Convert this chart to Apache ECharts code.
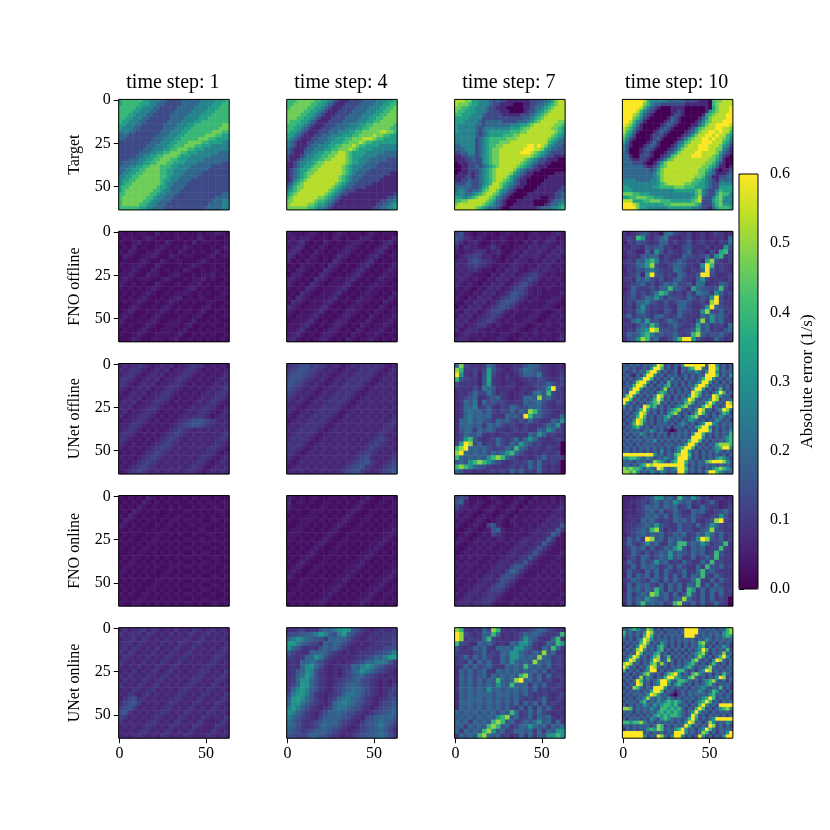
<!DOCTYPE html>
<html><head><meta charset="utf-8"><style>html,body{margin:0;padding:0;background:#fff}#c{width:830px;height:830px}</style>
<script src="https://cdn.jsdelivr.net/npm/echarts@6/dist/echarts.min.js"></script></head><body><div id="c"></div>
<script>
const columnTitles=["time step: 1","time step: 4","time step: 7","time step: 10"];
const rowLabels=["Target","FNO offline","UNet offline","FNO online","UNet online"];
const yTickValues=[0,25,50];
const xTickValues=[0,50];
const colorbarLabel="Absolute error (1/s)";
const targetUnit=0.6/9;   // target panels: one digit = 0.0667
const errorUnit=0.02;     // error panels: base-36 digit = 0.02
const target1=["56666665544433222233333344445556","56666655544332222233333444455566","66666554443322222333334444555666","66665544433222223333344445556666","66655444332222233333444455566666","66554443322222233334444555666666","65544433222222333344445566666666","55444332222223333444556666666677","54443322222223334445566666666777","44433222222233344455666666677766","33322222222333444556666667776655","33222222223334445566666777665555","22222222233344455666777766555544","22222222333444556667776655544444","22222223334445566777665554444444","22222233344556677766555444444333","22222334455667777655544444433333","22233344556677766555444443333333","23333445566777665554444333333322","33344556677766655444433333322222","33445566777766554444333333222222","34455667777766554443333322222222","44556677777766544433333222222222","45566777777765544333322222222222","45667777777765443333222222222222","56677777777655433332222222222222","56777777776654433322222222222222","66777777766544333222222222222233","67777777665443332222222222223333","67777776654433322222222222233344","67777766544333222222222222333344","66666655443332222222222223333344"];
const target4=["66677777665543211122223333444556","66777776655432111222233334445566","67777766554321112222333344455667","77777665543211122223333444556677","77776655432111222233334445566777","77766554321112222333344455667777","76665543211122223333444556677777","66655432111222333344455667777776","66554321112223333444556677777766","65543211122233344455667777788776","55432111223334445556677778776655","54321112233344555667778887665555","43211122333445556677787665555555","43211123344455667778766555544444","32111233444556677787655554444444","32111334455667788765555444443333","21112344556677888765554444333333","21123445566778888765544433333222","11234455677888888765544333322222","11234556778888887654443333222222","12345567788888887654433322222222","12345677888888887654333222222211","12345678888888876543332222221111","12456788888888876543322222211111","23567888888888765433222221111111","34677888888887654332222111111111","45678888888876543222111111111111","56788888888765432211111111111112","67888888877654321111111111111223","77888888766543211111111111122334","78888877655432111111111111223345","77777766544321111111111112233445"];
const target7=["88877554443232211111112223345788","87776554443221111000112233456788","77665544432211100000112334567888","76655544432221110000122345678888","66555444322222111112223456788888","55554444222222222222334567888888","55544443233333222233345678888877","54444433233333334445567888888776","54444432344444445556778888887765","54444432345555556667788888888765","44444432345555666778888888887654","44444423456666677788888888876543","44444423456667778888888888865433","33444423456677888888899898754332","33344423456778888888999887543322","22334423456778888889998765432222","11223323456778888888887654322111","11122322456778888888765432211100","01112222456778888887654322110000","00112232345678888876543211100000","00112223456788888754322110000000","01112123456788887543211000000111","11122123456788875432110000011111","11223223456788765321100000111111","22233223456887654321100001111111","33333223568887543211000011111112","34432334678875432100000111111122","44433456788764321000011111111223","55445678887643210000111110011223","66778888876532100011111000012334","78888888765432100111111000123345","88888876543321001111111123334456"];
const target10=["99999986444443333322221110677888","99999976433222222211111110678888","99999864321000111100000010578889","99998643210000112100000015678889","99987532100000122100000156788899","99976421000001321000001357888899","99864310000012321000012467888999","98753100000123210000113578899998","87642100001232100001246788899887","86531000012321000012357889989886","75420000122210000123578899898865","64210000123100001246788998988764","53100001231000013467888999888653","42100012321000124578889998887542","42000123210001235788889998877431","32000122100012357888899888875321","33100222100123678888999888764210","33211221001246788888888887754100","33322210013578888888888877642100","33333321124678888888888776531101","33333333235788888888887765310112","33333333346788888888887754311123","33333333345788888888877643112233","44443333445788888888766543213333","44444444445678888877665543224444","55444444455666677766655543225555","55544444444444455555567432246555","77766555444444444444467432257664","55667776655544444444568322467544","88855566777666555555678222567444","99987555555566777777765222467554","99997554444445555555443221356665"];
const fnoOff1=["212122113121212112122321","122212321211221213212112","211231212132112131221212","121312112321213212112123","213211223212132121212312","132112232113212211123122","121123211321221112321211","212232113211121232112121","122321132121213211212212","223211322112321121223121","232122211232112122312112","321212113211221223121121","212121232112112331211212","121212321121223212121122","212123211212331212211221","121232112123212121122112","112321121232121211231121","123211212321212212311212","232112123211122123112122","321121232112221231121211","212112321122212311212112","121123211222123112121221","211232112221231121212112","112321122212311212121121"];
const fnoOff4=["322123212123212212321221","232332122132121233212123","323421213212123321212342","234312132121233212123421","343121321212332121234212","431213212124321212342122","312132212143212123421212","121322121432121234212123","213321214321212342121232","133212143212123421212322","332121432122234212123221","321214321222342121232212","212143212223421212322121","121432122234212123221213","214321222342121232212132","143212223421212322121321","432122234212123221213212","321222342121233212132122","212223421212332121321223","122234212123321213212232","222342121233212132122321","223421212332121321223212","234212123321213212232121","342121233212132122321212"];
const fnoOff7=["683212322123212123222342","864323212232122132323422","642342123232121324234323","424332235312123243343243","323345423421232433432434","234565342312324334324342","343686543213243323243423","434565432232433232434232","343453221324342234343323","434322213243423456432322","343232132434234575323232","432321324342346753232323","323213243423467532323222","232132434234786532322223","321324342356875323222332","213243423578753232223321","132434235687532322233212","324342356753232223321232","243423456532322233212323","434234565323222332123232","342345532322233212323223","423443323222332123232232","234332322233212323223223","343223222332123232232234"];
const fnoOff10=["534687452ab6546345346534","465kf5469c5435634534453a","36587545a94645845645365b","54654868a5534785446354g8","46533a5f846546a455374ik6","355498a94654497656a5fj56","565a8fkd5656a75563hp7546","4569bgp7546a98554ftk5654","36587ad8655ba6465au95654","45693fu87564a8558ut75456","564a8b758458a6549f645546","4568a5746a8b6684ba455a85","35a655859ak9864ha8768k64","4695757ckg756485ca95f956","56857b9f958765a7586fu745","4759ac8658569a75574pu755","5648f7565754a96546gu9765","465ac6554864a7655fp76a56","6a578759a656a6555a8f9a64","45ad8h7857b85654ap7f8b55","5547b9kb657a7556h8a5664b","465adgup87685669k7a5658a","5a89fkd8967a657kp9687a65","478fpk8a456bkuuf7545a645"];
const unetOff1=["343454323434233454323232","434543234342334543232323","345432343423345432323234","454323434233454323232343","543234342334543232323434","432343423345432323234345","323434233454323232343454","234342334543232323434543","343423345432323234345432","434233454323232343454323","342334543232323434543234","423345432323234345432343","233454323232345678765434","334543232323456787654343","345432323234565434343434","454323232345654343434345","543232323456543434343454","432323234565434343434543","323232345654343434345432","232323456543434343454323","323234565434343434543234","232345654343434345432343","323456543434343454323434","234565434343434543234343"];
const unetOff4=["456785654343234345454323","567876543432343454543234","678765434323434545432343","787654343234345454323434","876543432343454543234343","765434323434545432343434","654343234345454323434343","543432343454543234343434","434323434545432343434343","343234345454323434343434","432343454543234343434343","323434545432343434343434","234345454323434343434345","343454543234343434343454","434545432343434343434543","345454323434343434345434","454543234343434343456543","545432343434343434565434","454323434343434345654343","543234343434343456543434","432343434343434567434345","323434343434345678543456","234343434343456785434567","343434343434567854345678"];
const unetOff7=["ao65545b84344558a9754343","pk55646g8543458ba8654344","uf54637h6435346a98c54345","k865538h5435434565765456","7555538g543454345667a756","555474ba844543454578fu64","4546a66c745434545ac8k655","4568a4578a54345aa8p8a655","45a8c4a68665455a8ab75465","45a9d5695465a867a9a65454","45ab9a7a6576a6a8pka76545","45ac9a9a554a896ukaa6545a","4aac8a875a8a6586a6545a8f","4aaa895a8a6565465456a8f5","48a95a8a8554565645a8fa65","46a88a5454565454a8fa5644","56fk85456a656a5afa654565","6hup6a565a65a8ga85645450","kpu9a8a7566a8ka856546540","pua8a8a6a8afka7545465560","ka8a8a8fkpka7545456a5665","8a8fkpkfa7545656a6a55650","kpkfa87545456565a6a54540","a85545456565a6a565a54540"];
const unetOff10=["a6a8a6a8afup6a5a6fuuuuuu8uuf6a5a","8a6a56a6fuuk6a5a3a8fkuua8uuk6a5a","a56a6a8kuuf6a56a3a6a8fa6fuuf6a8a","6a53a6fuuf6a5a8a56a5a6a8uuuk6a6f","a6a6afuuk6a5a6f6a5a6a6akuuf6a5a8","5a6apuuf6a5a6k8a6a5a6afuuf6a5a6a","6a8kuuk6a5a8fk6a5a6a8kuuk6a8a6a5","a6fuuf6a6a5ap8a6a5a6fuuf6a5ak6a5","a8uuk6a6a5fkf6a5a6a8upk6a5afuk6a","apuf6a5a6fup8a5a6a6fupf6a8upf8a5","uuk6a6a6akuk6a5a6afupa6a8fup6a8a","uf6a5a6afkp8a5a6a8kpf6a8kuk8a6up","f6a6a6upfk6a5a6afkpa6a8kup6a6auu","a6a5akuf8a6a5afkpa6a6fup8a5afupa","6a5afupa6a5a6fkpa6a5akuka6a5akf6","a5a8kuk6a5a8fka6a5afkpa6a5a8fa6a","5a6fupf6a5a8fa6a5a8ffa6a5a8fa6a5","a5akupa6a5a8a6a5afa6a5afuufa6a8a","5a8fka6a5a8a6a3a8a5a6fkuuf6a6a6a","a6a8a6a8fa6a5303a6a6a8uuuk6a5a8f","6a6a8fa6a5a8a3a6a8a6fuuk8a6a6a8k","a5a6a6a8a6a6a6a8a6a8uuuf6a5a6afk","6a6a8a6a8f6a6a6a6a8kuuk6a5a6a8fk","a6a5a6a8a6a6a8a6a8fuuf6a5a8kpppk","6a6a6a8a6a6a6a6afkuuk6a6a6afkuuf","8a6a6a6a6a6f6a6afuuf6a5a6a8fa6a6","uuuuuuuuuf8a6a8kpuuk6a5a6a6a6a5a","ffkkfa8fa6a8fa8fuuuf6a5a6a8fkfa6","a8a6a8a6apkfa6fkuuk8a6a8kpuuupf8","8a6a8fkupuuuuuuuuuf6a6a8a8a6a8a6","pkpkkf8fa8upa8afuuk8a6a5a8fkpkfa","ppkpf8a6fa8fa6a8uuf6a5a6fuukfa8a"];
const fnoOn1=["212121321212112121221211","121213212121211212122122","212132121212121121212212","121321212112112212121221","213212121121221121212121","132121211212212212112212","321212112122121221221121","212121121221212112211212","121211212212121121122121","212112122121212212212212","121121221212121121221121","211212212121212212112212","112122121212121121221121","121221212121212212112212","212212121212121121221211","122121212112212212112112","221212121122121121221121","212121211221212212112212","121212112212121121221121","212121122121212212112212","121211221212121121221121","212112212121212212112112","121122121212121121221121","211221212121212212112212"];
const fnoOn4=["321212211221212123211221","412212112212121232112212","321121122121212321122122","212112221212123211221212","121122212121232112212121","211222121212321122121212","112221212123211221212122","122212121232112212121223","222121212321122121212232","221212123211221212122321","212121232112212121223212","121212321122121212232121","212123211221212122321212","121232112212121223212121","212321122121212232121212","123211221212122321212122","232112212121223212121223","321122121212232121212232","211221212122321212122321","112212121223212121223212","122121212232121212232122","221212122321212122321221","212121223212121223212212","121212232121212232122121"];
const fnoOn7=["686222123212123213222322","8a3223212321232132232323","643232123212321322323234","432321232123213223232343","323212321232132232323433","232123212321322323234344","321232168321232232343448","212321238a32223233434495","123212326532232234344a62","232123232332323443449522","321232323223234434495322","212323232232344345853222","123232322323443458532223","232323223234435585322232","323232232344355853222322","232322323443688532223232","323223234436a85322232323","232232344368753222323232","322323443586532223232323","223234435775322232323232","232344356653222323232322","323443455532223232323223","234434555322232323232232","344344553222323232322323"];
const fnoOn10=["3334568ff8a6ka8fa5634534","3445658a6a8fa8a5646a5345","34356a8a6a8a56a45a655346","343568a6a56a654a8a5467a6","35456a8a6a5a856a65467f85","3454a8a6565a8a6a5468pu65","45568a8f8655a675a58fa656","4568a8kp8465a67558ap8655","3568a7a8a56a8a56a8fa6a56","4a6a5up8a5a8a657fup86a56","5a658f7a55a8kk7a8f9568k5","46a7a5956a8fk85a8a566k65","45a75857a8f8a86a7a56k855","3685a857a8f7a55a56a6k655","4a65a68f8a565a655a6k6755","45a5a8a856a5a654a5k86a56","4a665a6a5a656a55ak8a6555","3a5a7a5a5a5a5a5a8k65a655","56a865a85a5a656ak65a5a65","4a5a8a65a5a6a5a8k5a5a655","3a8a6a8ka5a6a5kf5a5a8a56","4a58a8pk8a5a58k85a5a5a55","5a6a8fa87a58apa65a5a5650","3a5ak9a8a56kp86a5a56a650"];
const unetOn1=["353445354343534354345343","534453543435343543453434","344535434353435434534343","445354343534354345343434","453543435343543453434345","535434353435434534343454","354343534354345343434543","543435343543453434345434","434353435434534343454343","343534354345343434543435","435343543453434345434354","353435434534343454343543","534354345343434543435434","343543453434345434354343","435434534343454343543435","356745343434543435434354","467853434345434354343543","678534343454343543435434","785343434543435434354343","653434345434354343543435","534343454343543435433354","343434543435434354333543","434345434354343543335434","343454343543435433354343"];
const unetOn4=["44564558a9cfgf8754345445","67789acgd97cg97543454555","acfda9885a9a975434545556","ggc98664a8a9754343455556","fa854548a8a7543434555677","86544a9a975434345556789d","6545a9fc75434345567a9cgg","4549ab97543434567aaccb85","454aefa7434455a9cfda8654","4589fd754343569bfca86543","459bgc7543435689a7654343","45affa754345678a76543434","569gfa75435679a976543435","5aegd975435689ba97543456","7cfgc85434569bca86543465","9fhea854356abca975434567","affb965435abdba865435678","cgd9754356acb98754346789","fd975435799a97754356789a","da865436899987543679a9a8","b9754568a9a865435789b987","a9754569a98754346789c975","98756799986543456789a864","87667a98765434567899b975"];
const unetOn7=["pk5454a6pk54545568a96544","up7545a9ka45456a8a86556k","up5655ak6545458fa8545ak5","k7644a8a6454a8ffa545a8kg","8545a7a54a9a8ffa854a8ka5","655467a565a9ffa86a8p8a54","56a5a6a655a8ffa8a8pa8565","565a5a7a55a8fa8a8pa8a565","45a6a68a655a8a8ka8a6a565","4a7a68a54a8a8a7a8a6a5654","4a7a68a5a8a8a8kpa6a5a565","4a7a6a6a8ka8apu9a6a56545","4a8a6a8a8fa8ka9a5a6a5565","5a8a8a8f9a8a9a8a6a565654","4a8a8a9a8a9a8a7a65565456","4a8a9a8a8a8a7a65656a5465","4a9a8a8a8a7a6a5a6a5a5654","4a8a8a7a8a6a65a5a5a6a545","a8a8a7a8a6a8ka56a6a65454","8a8a7a8a8fkp8a56a5a8a545","a8a5a8a8kpk8a56a8af8a5a5","8a5a8a8kpk8a56aafa8a5a8a","a5a8a8kpf8a56aa8a5a5a8ff","5a8a8kpa8a5645a5a5a8ffkf"];
const unetOn10=["a8fkfa8pk6a5a8a6a8uuuua6a8a6a8kp","k8a6a8fupa6a5a8a6auuuu8a6a8a6fkp","f6a6a6kuk6a5a6a8a6uuua6a8a6a8fkf","a6a5afupf6a8a6a6a8a8a6a8fa6a8a8a","5a6a8kuk6a6fa6a5a6a6a8kpa6a5a6a6","a5a6fup8a6fka5a6a5a6a8fk6a5a8fa5","5a6apuf6a6fk6a5a6a5a6afuk6a6a8k6","a6a8uk6a8fk8a5a6a5a6afkpa5a8ap8a","6afup8a5akp6ak5a6a5a6fpf6a5akuf6","8fupa6a6fup8apa5a6a8kpa6a5fupa6a","pup8a5a8kpapa6a5a6afka6a5aka6a5a","uk8a5a6fupa6a5a8a8fka6a8fpa6a5a8","k6a6a5afuu6a5a8fkka6a5afup8a6a8a","6a5a6akpa6a5akpuf6a6kpfa6a5a8ka6","a6a5ap8fa5a8kuukfa8kpa6a5a8fup6a","5a6auk8a6afuuka8kkfa6a5afkpa6a5a","a5a8up6a5afuuf8fka6a5a8afka6a8a6","5a6pka6a8uuuf6a8a6a5a8afa6a8k6a5","a6a8a6a8kuuk6a836a6a8afa6akf6a5a","5a6a8a8fupf8a6306a6a8a8a8fk8a5a6","a6a5a8fpa8fa8fa6a6a8a6afkuk6a8a6","6a8a6fk8a8fafkfkfa6a5afkuk8a5a8a","a5a6a8fa8fafkkfka8a5a8kuf8a6uuuu","ppk6a8a8fa8kkfkfka5a6kuk6a5afkpf","a8a5a6a8a8fkfkfkfa6afuf8a5a6a8a6","6a6a6a6a8fkfkfkkfa6auk6a5a8a6a5a","a5a8a6a6fa8fkfa8a6akuf6a6afuuuuu","kkfkkpf8a6a8a8a6a8fup8a5apf8a8fa","8a6a8a8a6apk6a6a8auk6a6a8up6a5a6","3a6a6a8fkfpk8a8fkuf8a5afuka6a8a8","uuuuuu8a6a8a6a8uuuf8a6apk6a5a8fu","uuuuuuf6a8upa6fuuf6a5auf6a5a6fuu"];
const panels=[
 [target1,target4,target7,target10],
 [fnoOff1,fnoOff4,fnoOff7,fnoOff10],
 [unetOff1,unetOff4,unetOff7,unetOff10],
 [fnoOn1,fnoOn4,fnoOn7,fnoOn10],
 [unetOn1,unetOn4,unetOn7,unetOn10]
];
const FONT='"Liberation Serif","Times New Roman",serif';
const lefts=[118.7,286.7,454.6,622.4], tops=[99.4,231.3,363.5,495.6,627.7], W=110.5, H=110.5;
const viridis=['#440154','#482475','#414487','#355f8d','#2a788e','#21918c','#22a884','#44bf70','#7ad151','#bddf26','#fde725'];
const grids=[],xAxes=[],yAxes=[],series=[],titles=[];
const hidden=n=>({type:'category',show:false,data:Array.from({length:n},(_,i)=>i)});
const tickStyle={show:true,length:5,lineStyle:{color:'#000',width:1}};
const labelStyle={color:'#000',fontFamily:FONT,fontSize:16,margin:8};
panels.forEach((row,r)=>row.forEach((rows,c)=>{
  const n=rows.length, g=grids.length, base=r===0?10:36, unit=r===0?targetUnit:errorUnit;
  grids.push({left:lefts[c],top:tops[r],width:W,height:H,show:true,z:10,backgroundColor:'transparent',borderColor:'#000',borderWidth:1});
  xAxes.push(Object.assign(hidden(n),{gridIndex:g}));
  yAxes.push(Object.assign(hidden(n),{gridIndex:g,inverse:true}));
  const bottom=r===panels.length-1, first=c===0;
  xAxes.push({gridIndex:g,type:'value',min:-0.5,max:63.5,position:'bottom',show:bottom,splitLine:{show:false},axisLine:{show:false},
    axisTick:Object.assign({customValues:xTickValues},tickStyle),
    axisLabel:Object.assign({customValues:xTickValues,formatter:'{value}'},labelStyle)});
  yAxes.push({gridIndex:g,type:'value',min:-0.5,max:63.5,inverse:true,position:'left',show:first,splitLine:{show:false},axisLine:{show:false},
    name:first?rowLabels[r]:'',nameLocation:'middle',nameRotate:90,nameGap:36,nameTextStyle:{color:'#000',fontFamily:FONT,fontSize:16},
    axisTick:Object.assign({customValues:yTickValues},tickStyle),
    axisLabel:Object.assign({customValues:yTickValues,formatter:'{value}'},labelStyle)});
  const data=[];
  rows.forEach((s,y)=>{const t=s.padEnd(n,s[s.length-1]).slice(0,n);for(let x=0;x<n;x++)data.push([x,y,parseInt(t[x],base)*unit]);});
  series.push({type:'heatmap',coordinateSystem:'cartesian2d',xAxisIndex:2*g,yAxisIndex:2*g,data,progressive:0,silent:true,animation:false,emphasis:{disabled:true},itemStyle:{borderWidth:0}});
}));
columnTitles.forEach((t,c)=>titles.push({text:t,left:lefts[c]+W/2-1,top:73,textAlign:'center',padding:0,textStyle:{color:'#000',fontFamily:FONT,fontSize:20,fontWeight:'normal'}}));
const cg=grids.length;
grids.push({left:739,top:174,width:19,height:415,show:true,z:10,backgroundColor:'transparent',borderColor:'#000',borderWidth:1});
xAxes.push({gridIndex:cg,type:'value',show:false,min:0,max:1});
yAxes.push({gridIndex:cg,type:'value',min:0,max:0.6,interval:0.1,position:'right',splitLine:{show:false},axisLine:{show:false},
  axisTick:tickStyle,axisLabel:Object.assign({},labelStyle,{margin:12,formatter:v=>v.toFixed(1)}),
  name:colorbarLabel,nameLocation:'middle',nameRotate:90,nameGap:41,nameTextStyle:{color:'#000',fontFamily:FONT,fontSize:17}});
const chart=echarts.init(document.getElementById('c'),null,{renderer:'canvas'});
chart.setOption({animation:false,backgroundColor:'#fff',title:titles,grid:grids,xAxis:xAxes,yAxis:yAxes,series,
  visualMap:{type:'continuous',min:0,max:0.6,left:739,top:174,itemWidth:19,itemHeight:415,padding:0,calculable:false,realtime:false,hoverLink:false,silent:true,
    seriesIndex:series.map((_,i)=>i),inRange:{color:viridis},text:null,showLabel:false,z:4}});
</script></body></html>
